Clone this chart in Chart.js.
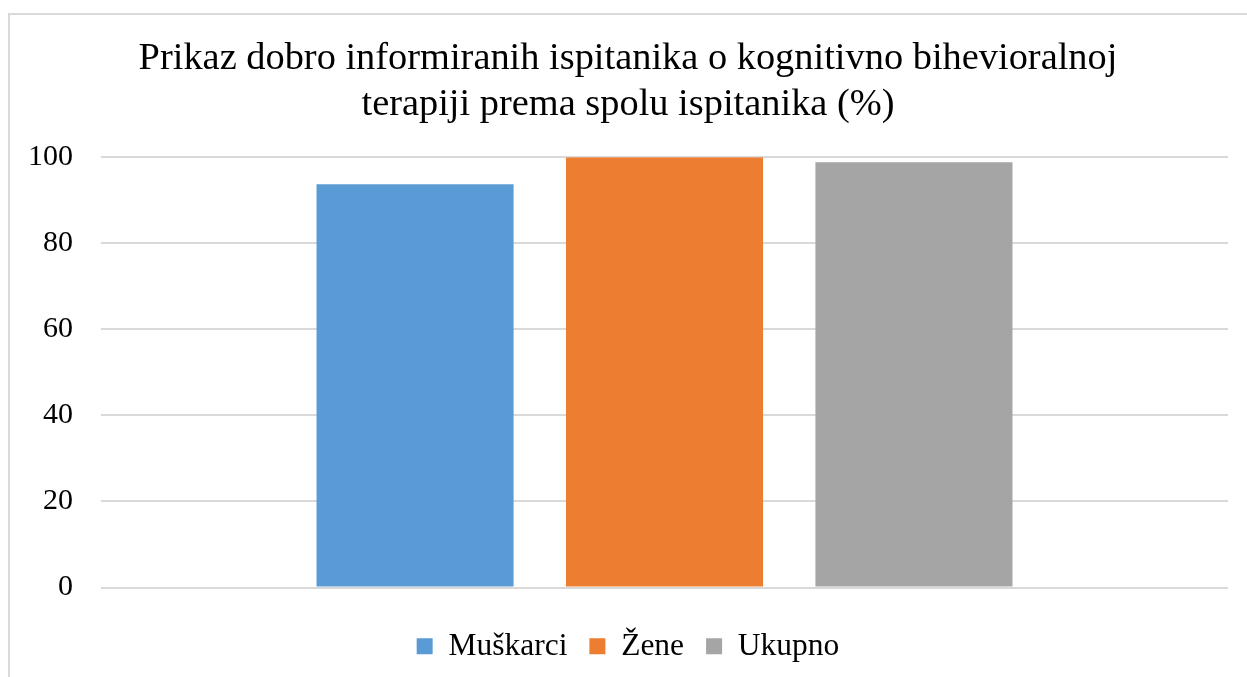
<!DOCTYPE html>
<html>
<head>
<meta charset="utf-8">
<script src="https://cdn.jsdelivr.net/npm/chart.js@4/dist/chart.umd.min.js"></script>
<style>
  body { margin: 0; background: #fff; }
  #wrap { position: relative; width: 1247px; height: 677px; overflow: hidden; }
  #frame { position: absolute; left: 8px; top: 13px; width: 1300px; height: 700px;
           border: 2px solid #d9d9d9; pointer-events: none; }
</style>
</head>
<body>
<div id="wrap">
  <canvas id="myChart" width="1247" height="677"></canvas>
  <div id="frame"></div>
</div>
<script>
// podaci sa grafikona
const naslov = ["Prikaz dobro informiranih ispitanika o kognitivno bihevioralnoj", "terapiji prema spolu ispitanika (%)"];
const kategorije = [""];
const serije = ["Muškarci", "Žene", "Ukupno"];
const muskarci = [93.7];
const zene = [100];
const ukupno = [98.8];
const boje = ["#5B9BD5", "#ED7D31", "#A5A5A5"];
const yTicks = [0, 20, 40, 60, 80, 100];

const font = "'Liberation Serif', 'Times New Roman', serif";
Chart.defaults.font.family = font;
Chart.defaults.color = "#000";

const vrijednosti = [muskarci, zene, ukupno];
const datasets = serije.map(function (s, i) {
  return {
    label: s,
    data: vrijednosti[i],
    backgroundColor: boje[i],
    categoryPercentage: 0.664,
    barPercentage: 0.79
  };
});

const config = {
  type: "bar",
  data: { labels: kategorije, datasets: datasets },
  options: {
    responsive: false,
    animation: false,
    layout: { padding: { left: 28, right: 19, top: 13, bottom: 5 } },
    plugins: {
      title: {
        display: true,
        text: naslov,
        font: { size: 38.4, weight: "normal" },
        lineHeight: 1.2,
        padding: { top: 23, bottom: 29 }
      },
      legend: {
        position: "bottom",
        labels: {
          boxWidth: 16,
          boxHeight: 16,
          padding: 22,
          font: { size: 31.5 }
        }
      },
      tooltip: { enabled: false }
    },
    scales: {
      x: {
        grid: { display: false },
        border: { display: false },
        ticks: { display: false },
        afterFit: function (axis) { axis.height = 21; }
      },
      y: {
        min: 0,
        max: 100,
        afterBuildTicks: function (axis) {
          axis.ticks = yTicks.map(function (v) { return { value: v }; });
        },
        afterFit: function (axis) { axis.width = 73; },
        grid: { color: "#d9d9d9", lineWidth: 2, drawTicks: false },
        border: { display: false },
        ticks: { padding: 28, font: { size: 30 } }
      }
    }
  }
};

const chart = new Chart(document.getElementById("myChart"), config);
</script>
</body>
</html>
